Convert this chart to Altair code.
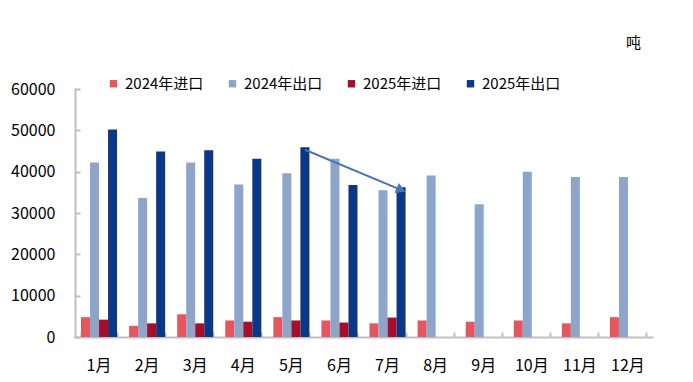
import altair as alt
import pandas as pd

months = ["1月", "2月", "3月", "4月", "5月", "6月", "7月", "8月", "9月", "10月", "11月", "12月"]
series = ["2024年进口", "2024年出口", "2025年进口", "2025年出口"]
colors = ["#E5565E", "#8EA5CA", "#A50F2D", "#0B3784"]
imp24 = [4800, 2700, 5500, 4000, 4800, 4000, 3300, 4000, 3700, 4000, 3300, 4800]
exp24 = [42200, 33600, 42200, 36900, 39600, 43100, 35500, 39100, 32100, 40000, 38700, 38700]
imp25 = [4200, 3300, 3300, 3700, 4000, 3500, 4700]
exp25 = [50200, 44900, 45200, 43100, 45900, 36800, 36200]
arrow_months = ["5月", "7月"]
arrow_values = [45300, 35600]
yticks = [0, 10000, 20000, 30000, 40000, 50000, 60000]

rows = []
for s, vals in zip(series, [imp24, exp24, imp25, exp25]):
    for m, v in zip(months, vals):
        rows.append({"month": m, "series": s, "value": v})
df = pd.DataFrame(rows)
arrow_df = pd.DataFrame({"month": arrow_months, "value": arrow_values,
                         "series": ["2025年出口"] * 2})
head_df = arrow_df.iloc[[1]]

FONT = "Noto Sans CJK SC"
GRAY = "#BFBFBF"

xscale = alt.Scale(domain=months, paddingInner=0.25, paddingOuter=0.125)
yscale = alt.Scale(domain=[0, 60000])
offscale = alt.Scale(domain=series, paddingInner=0, paddingOuter=0)

bars = alt.Chart(df).mark_bar().encode(
    x=alt.X("month:N", scale=xscale, sort=months,
            axis=alt.Axis(orient="bottom", title=None, labelAngle=0, ticks=False, domain=False,
                          labelFont=FONT, labelFontSize=16, labelColor="#000", labelPadding=20)),
    xOffset=alt.XOffset("series:N", scale=offscale, sort=series),
    y=alt.Y("value:Q", scale=yscale,
            axis=alt.Axis(orient="left", values=yticks, format="d", grid=False, ticks=False,
                          domain=False,
                          labelFont=FONT, labelFontSize=16, labelColor="#000", labelPadding=20,
                          title="吨", titleAngle=0, titleFont=FONT, titleFontSize=15,
                          titleFontWeight="normal", titleColor="#000",
                          titleX=558, titleY=-39, titleAlign="center")),
    color=alt.Color("series:N", sort=series, scale=alt.Scale(domain=series, range=colors),
                    legend=alt.Legend(title=None, orient="none", direction="horizontal",
                                      legendX=31, legendY=-13, symbolType="square",
                                      symbolSize=55, symbolStrokeWidth=0,
                                      labelFont=FONT, labelFontSize=15, labelColor="#000",
                                      columnPadding=21, labelOffset=4)),
)

line = alt.Chart(arrow_df).mark_line(color="#4A74B6", strokeWidth=2).encode(
    x=alt.X("month:N", scale=xscale, sort=months,
            axis=alt.Axis(orient="top", offset=-248, title=None, labels=False,
                          domainColor=GRAY, domainWidth=2, tickColor=GRAY, tickWidth=2,
                          tickSize=5, tickBand="extent")),
    xOffset=alt.XOffset("series:N", scale=offscale, sort=series),
    y=alt.Y("value:Q", scale=yscale,
            axis=alt.Axis(orient="right", offset=-577, values=yticks, grid=False, title=None,
                          labels=False, domainColor=GRAY, domainWidth=2, tickColor=GRAY,
                          tickWidth=2, tickSize=5)),
)

head = alt.Chart(head_df).mark_point(shape="triangle-right", filled=True, size=120,
                                     color="#4A74B6", opacity=1, angle=23).encode(
    x=alt.X("month:N", scale=xscale, sort=months, axis=None),
    xOffset=alt.XOffset("series:N", scale=offscale, sort=series),
    y=alt.Y("value:Q", scale=yscale, axis=None),
)

chart = alt.layer(bars, line, head).resolve_axis(x="independent", y="independent").properties(
    width=577, height=248,
    autosize=alt.AutoSizeParams(type="none"),
    padding={"left": 67, "top": 81, "right": 33, "bottom": 45},
).configure_view(stroke=None).configure_axis(domainCap="square")

chart.save("out.html", embed_options={"renderer": "svg", "actions": False})
